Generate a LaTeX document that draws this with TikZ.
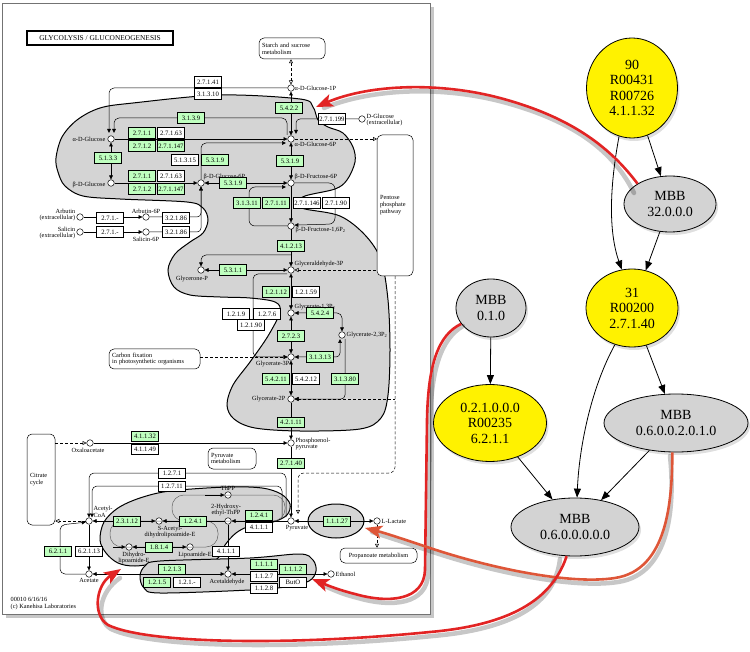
\documentclass[tikz,border=0pt]{standalone}
\usepackage{fontspec}
\setmainfont{Liberation Serif}
\usetikzlibrary{arrows.meta,shapes.geometric,shadows}
\definecolor{kg}{RGB}{191,255,191}
\definecolor{rgn}{RGB}{212,212,212}
\definecolor{redl}{RGB}{226,36,36}
\definecolor{orl}{RGB}{222,86,56}
\definecolor{gnd}{RGB}{211,211,211}
\newcommand\mfs{\fontsize{6.7}{7}\selectfont}
\newcommand\lfs{\fontsize{6.3}{6.9}\selectfont}
\newcommand\gfs{\fontsize{14}{15.5}\selectfont}
\begin{document}
\begin{tikzpicture}[x=1pt,y=-1pt,
  ez/.style={draw, fill=white, font=\mfs, inner sep=0pt, minimum height=10.5pt, minimum width=27pt, line width=0.5pt},
  eg/.style={ez, fill=kg},
  cpd/.style={circle, draw, fill=white, inner sep=0pt, minimum size=6.5pt, line width=0.5pt},
  lab/.style={font=\lfs, inner sep=0.5pt, align=left},
  kl/.style={line width=0.5pt},
  ka/.style={kl, -{Triangle[length=4pt,width=3.6pt]}},
  kb/.style={kl, {Triangle[length=4pt,width=3.6pt]}-{Triangle[length=4pt,width=3.6pt]}},
  kd/.style={kl, dash pattern=on 3pt off 2pt},
  oa/.style={-{Triangle[open,length=4pt,width=4pt]}},
  ao/.style={{Triangle[open,length=4pt,width=4pt]}-},
  oo/.style={{Triangle[open,length=4pt,width=4pt]}-{Triangle[open,length=4pt,width=4pt]}},
  pbox/.style={draw, rounded corners=5pt, fill=white, font=\lfs, align=left, line width=0.5pt, inner sep=2.5pt},
  reg/.style={fill=rgn, draw=black, line width=1pt},
  cyc/.style={draw=black!60, line width=0.5pt},
  gn/.style={ellipse, draw=black, line width=0.8pt, font=\gfs, align=center, inner sep=0pt,
     drop shadow={shadow xshift=2pt, shadow yshift=-3pt, opacity=0.25}},
  gy/.style={gn, fill=yellow},
  gg/.style={gn, fill=gnd},
  gedge/.style={line width=0.8pt, -{Triangle[length=9pt,width=7pt]}},
  rline/.style={line width=2.6pt},
  rshad/.style={line width=4.5pt, draw=black, opacity=0.22, line cap=round}
]
\useasboundingbox (0,0) rectangle (750,652);

% ---------- map frame ----------
\fill[black!22] (6,7) rectangle (434,618);
\draw[fill=white, draw=black!55, line width=0.8pt] (2,3) rectangle (430,614);
\node[draw, line width=1.1pt, font=\fontsize{7.4}{8}\selectfont, minimum width=146pt, minimum height=14pt, inner sep=0pt] (title) at (100,38) {GLYCOLYSIS / GLUCONEOGENESIS};

% ---------- shaded modules ----------
\draw[reg] plot[smooth cycle, tension=0.55] coordinates {
 (56,158) (62,137) (77,120) (100,108) (133,103) (220,95) (300,99) (313,107) (318,120) (328,127) (343,133)
 (353,147) (355,162) (347,180) (335,189) (305,196) (294,204) (305,209) (340,216) (365,235) (381,260)
 (388,300) (390,350) (388,395) (381,418) (360,429) (300,431) (255,428) (234,419) (227,405) (233,385)
 (250,362) (268,336) (280,312) (275,302) (250,298) (220,297) (190,295) (174,287) (168,270) (175,254)
 (190,242) (203,233) (208,220) (203,208) (187,202) (120,199) (83,196) (65,186) (58,172)};
\draw[reg] plot[smooth cycle, tension=0.55] coordinates {
 (100,540) (104,522) (118,508) (140,498) (170,491) (227,487) (262,488) (281,494) (290,504) (287,515)
 (273,522) (250,526) (236,533) (225,545) (219,557) (205,564) (165,563) (135,566) (118,563) (106,553)};
\draw[reg] plot[smooth cycle, tension=0.55] coordinates {
 (140,576) (145,566) (160,561) (250,558) (300,554) (313,560) (316,571) (309,581) (285,587) (250,590) (160,593) (144,588)};
\draw[reg] (336,521) ellipse [x radius=28pt, y radius=17pt];

% ---------- pathway boxes ----------
\node[pbox, minimum width=66pt, minimum height=21pt, text width=60pt] (stb) at (292,48.5) {Starch and sucrose\\metabolism};
\node[pbox, minimum width=36pt, minimum height=141pt, text width=30pt] (pp) at (395,205.5) {Pentose\\phosphate\\pathway};
\node[pbox, minimum width=91pt, minimum height=20pt, text width=85pt] (cf) at (154.5,359) {Carbon fixation\\in photosynthetic organisms};
\node[pbox, minimum width=28pt, minimum height=91pt, text width=22pt] (cc) at (41,479.5) {Citrate\\cycle};
\node[pbox, minimum width=48pt, minimum height=21pt, text width=42pt] (pym) at (232,458.5) {Pyruvate\\metabolism};
\node[pbox, minimum width=77pt, minimum height=15pt, align=center] (pm) at (378.5,555.5) {Propanoate metabolism};

% ---------- compounds ----------
\node[cpd] (aG1P) at (291,88) {};
\node[cpd] (aG6P) at (291,139) {};
\node[cpd] (aGlc) at (111,139) {};
\node[cpd] (dGex) at (362,119) {};
\node[cpd] (bGlc) at (111,183) {};
\node[cpd] (bG6P) at (201,183) {};
\node[cpd] (bF6P) at (291,183) {};
\node[cpd] (F16P) at (291,226) {};
\node[cpd] (GAP) at (291,270) {};
\node[cpd] (DHAP) at (201,270) {};
\node[cpd] (ArbX) at (80,217) {};
\node[cpd] (Arb6) at (146,217) {};
\node[cpd] (SalX) at (80,232) {};
\node[cpd] (Sal6) at (146,232) {};
\node[cpd] (G13) at (291,313) {};
\node[cpd] (G23) at (342,335) {};
\node[cpd] (G3) at (291,357) {};
\node[cpd] (G2) at (291,399) {};
\node[cpd] (PEP) at (291,443) {};
\node[cpd] (Pyr) at (291,521) {};
\node[cpd] (Lac) at (377,521) {};
\node[cpd] (OAA) at (90,443) {};
\node[cpd] (AcCoA) at (89,521) {};
\node[cpd] (SAc) at (159,521) {};
\node[cpd] (HE) at (228,521) {};
\node[cpd] (ThPP) at (228,495) {};
\node[cpd] (DHL) at (129,547) {};
\node[cpd] (LipE) at (190,547) {};
\node[cpd] (Ace) at (89,574) {};
\node[cpd] (Ald) at (228,574) {};
\node[cpd] (EtOH) at (331,574) {};

% ---------- reaction lines ----------
\draw[kd, oo] (stb.south -| aG1P) -- (aG1P);
\draw[kb] (aG1P) -- (aG6P);
\draw[ka, rounded corners=5pt] (aG1P.west) -- (109,88) -- (109,133);
\draw[ka, rounded corners=5pt] (287,135) -- (287,118) -- (114,118) -- (114,133);
\draw[ka, rounded corners=4pt] (dGex) -- (296,119) -- (296,134);
\draw[ka] (aGlc) -- (aG6P);
\draw[ka, rounded corners=5pt] (bG6P) -- (201,143) -- (286,143);
\draw[kb] (aGlc) -- (bGlc);
\draw[ka] (bGlc) -- (bG6P);
\draw[kb] (bG6P) -- (bF6P);
\draw[kb] (aG6P) -- (bF6P);
\draw[ka] (bF6P) -- (F16P);
\draw[ka, rounded corners=6pt] (F16P.west) -- (249,226) -- (249,187) -- (286,187);
\draw[ka, rounded corners=6pt] (bF6P.east) -- (335,183) -- (335,224) -- (F16P.15);
\draw[ka] (ArbX) -- (Arb6);
\draw[ka] (SalX) -- (Sal6);
\draw[ka, rounded corners=4pt] (Arb6) -| (bG6P);
\draw[ka, rounded corners=4pt] (Sal6) -| (bG6P);
\draw[ka] (F16P) -- (GAP);
\draw[ka, rounded corners=5pt] (291,255) -- (201,255) -- (DHAP);
\draw[kb] (DHAP) -- (GAP);
\draw[kd, ao] (GAP) -- (377,270);
\draw[kd, oa] (aG6P) -- (377,139);
\draw[kb] (GAP) -- (G13);
\draw[ka, rounded corners=5pt] (287,274) -- (253,274) -- (253,357) -- (G3);
\draw[kb] (G13) -- (G3);
\draw[kb, rounded corners=5pt] (G13) -- (342,313) -- (G23);
\draw[kb, rounded corners=4pt] (340,339) -- (340,357) -- (G3);
\draw[ka, rounded corners=4pt] (345,339) -- (345,399) -- (G2);
\draw[kb] (G3) -- (G2);
\draw[kd, oa] (cf.east |- G3) -- (G3);
\draw[kd, ao] (G2) -- (395,399);
\draw[kd, oa, rounded corners=6pt] (pp.south) -- (395,473) -- (298,473) -- (298,514);
\draw[ka] (G2) -- (PEP);
\draw[ka] (OAA) -- (PEP);
\draw[kd, oa] (cc.east |- OAA) -- (OAA);
\draw[ka] (PEP) -- (Pyr);
\draw[kb] (Pyr) -- (Lac);
\draw[kd, oa] (Lac) -- (pm.north -| Lac);
\draw[ka, rounded corners=5pt] (286,517) -- (286,473) -- (89,473) -- (AcCoA);
\draw[ka, rounded corners=5pt] (282,517) -- (282,486) -- (92,486) -- (92,517.5);
\draw[cyc, rounded corners=12pt] (172,495) rectangle (285,521);
\draw[cyc, rounded corners=12pt] (110,521) rectangle (218,547);
\draw[ka] (Pyr) -- (HE);
\draw[ka] (HE) -- (SAc);
\draw[kb] (SAc) -- (AcCoA);
\draw[ka] (205,495) -- (ThPP);
\draw[ka] (113,547) -- (DHL);
\draw[kb] (DHL) -- (LipE);
\draw[ka] (HE) -- (Ald);
\draw[ka] (AcCoA) -- (Ace);
\draw[ka, rounded corners=5pt] (Ace.west) -- (60,574) -- (60,525) -- (AcCoA.200);
\draw[kd, oa] (AcCoA) -- (cc.east |- AcCoA);
\draw[kb] (Ald) -- (Ace);
\draw[kb] (Ald) -- (EtOH);

% ---------- enzymes ----------
\node[ez] (e1) at (208,82) {2.7.1.41};
\node[ez] (e2) at (208,94) {3.1.3.10};
\node[eg] (e3) at (191,118) {3.1.3.9};
\node[eg] (e4) at (289,108) {5.4.2.2};
\node[ez] (e5) at (332,119) {2.7.1.199};
\node[eg] (e6) at (142,133) {2.7.1.1};
\node[ez] (e7) at (171,133) {2.7.1.63};
\node[eg] (e8) at (142,146) {2.7.1.2};
\node[eg] (e9) at (171,146) {2.7.1.147};
\node[eg] (e10) at (108,158) {5.1.3.3};
\node[ez] (e11) at (185,160) {5.1.3.15};
\node[eg] (e12) at (215,160) {5.3.1.9};
\node[eg] (e13) at (290,161) {5.3.1.9};
\node[eg] (e14) at (142,176) {2.7.1.1};
\node[ez] (e15) at (171,176) {2.7.1.63};
\node[eg] (e16) at (142,189) {2.7.1.2};
\node[eg] (e17) at (171,189) {2.7.1.147};
\node[eg] (e18) at (233,183) {5.3.1.9};
\node[eg] (e19) at (247,203) {3.1.3.11};
\node[eg] (e20) at (276,203) {2.7.1.11};
\node[ez] (e21) at (307,203) {2.7.1.146};
\node[ez] (e22) at (336,203) {2.7.1.90};
\node[ez] (e23) at (110,218) {2.7.1.-};
\node[ez] (e24) at (176,218) {3.2.1.86};
\node[ez] (e25) at (110,232) {2.7.1.-};
\node[ez] (e26) at (176,232) {3.2.1.86};
\node[eg] (e27) at (291,246) {4.1.2.13};
\node[eg] (e28) at (233,270) {5.3.1.1};
\node[eg] (e29) at (276,292) {1.2.1.12};
\node[ez] (e30) at (306,292) {1.2.1.59};
\node[ez] (e31) at (236,314) {1.2.1.9};
\node[ez] (e32) at (267,314) {1.2.7.6};
\node[ez] (e33) at (251,325) {1.2.1.90};
\node[eg] (e34) at (320,313) {5.4.2.4};
\node[eg] (e35) at (291,336) {2.7.2.3};
\node[eg] (e36) at (320,357) {3.1.3.13};
\node[eg] (e37) at (276,379) {5.4.2.11};
\node[ez] (e38) at (306,379) {5.4.2.12};
\node[eg] (e39) at (345,379) {3.1.3.80};
\node[eg] (e40) at (291,422) {4.2.1.11};
\node[eg] (e41) at (145,436) {4.1.1.32};
\node[ez] (e42) at (145,449) {4.1.1.49};
\node[eg] (e43) at (291,463) {2.7.1.40};
\node[ez] (e44) at (172,473) {1.2.7.1};
\node[ez] (e45) at (172,486) {1.2.7.11};
\node[eg] (e46) at (127,521) {2.3.1.12};
\node[eg] (e47) at (193,521) {1.2.4.1};
\node[eg] (e48) at (259,515) {1.2.4.1};
\node[ez] (e49) at (259,527) {4.1.1.1};
\node[eg] (e50) at (159,547) {1.8.1.4};
\node[ez] (e51) at (226,551) {4.1.1.1};
\node[eg] (e52) at (337,521) {1.1.1.27};
\node[eg] (e53) at (58,551) {6.2.1.1};
\node[ez] (e54) at (89,551) {6.2.1.13};
\node[eg] (e55) at (172,569) {1.2.1.3};
\node[eg] (e56) at (157,582) {1.2.1.5};
\node[ez] (e57) at (187,582) {1.2.1.-};
\node[eg] (e58) at (264,564) {1.1.1.1};
\node[ez] (e59) at (264,576) {1.1.2.7};
\node[ez] (e60) at (264,588) {1.1.2.8};
\node[eg] (e61) at (293,569) {1.1.1.2};
\node[ez] (e62) at (293,582) {ButO};

% ---------- compound labels ----------
\node[lab, anchor=west] (lA1) at (294,88) {α-D-Glucose-1P};
\node[lab, anchor=north west] (lA6) at (294,141) {α-D-Glucose-6P};
\node[lab, anchor=east] (lAG) at (106,139) {α-D-Glucose};
\node[lab, anchor=west] (lDG) at (366,120) {D-Glucose\\(extracellular)};
\node[lab, anchor=east] (lBG) at (106,185) {β-D-Glucose};
\node[lab, anchor=south west] (lB6) at (203,181) {β-D-Glucose-6P};
\node[lab, anchor=south west] (lF6) at (294,181) {β-D-Fructose-6P};
\node[lab, anchor=west] (lF16) at (295,230) {β-D-Fructose-1,6P\textsubscript{2}};
\node[lab, anchor=south west] (lGAP) at (294,268) {Glyceraldehyde-3P};
\node[lab, anchor=north] (lDH) at (192,275) {Glycerone-P};
\node[lab, anchor=east, align=right] (lAX) at (76,215) {Arbutin\\(extracellular)};
\node[lab, anchor=south] (lA6P) at (146,214) {Arbutin-6P};
\node[lab, anchor=east, align=right] (lSX) at (76,233) {Salicin\\(extracellular)};
\node[lab, anchor=north] (lS6P) at (146,236) {Salicin-6P};
\node[lab, anchor=south west] (lG13) at (294,311) {Glycerate-1,3P\textsubscript{2}};
\node[lab, anchor=west] (lG23) at (346,335) {Glycerate-2,3P\textsubscript{2}};
\node[lab, anchor=north east] (lG3) at (290,360) {Glycerate-3P};
\node[lab, anchor=east] (lG2) at (286,399) {Glycerate-2P};
\node[lab, anchor=west] (lPEP) at (295,444) {Phosphoenol-\\pyruvate};
\node[lab, anchor=north] (lPyr) at (297,525) {Pyruvate};
\node[lab, anchor=west] (lLac) at (381,521) {L-Lactate};
\node[lab, anchor=north] (lOAA) at (88,447) {Oxaloacetate};
\node[lab, anchor=south west] (lAc) at (93,518) {Acetyl-\\CoA};
\node[lab, anchor=north, align=center] (lSAc) at (170,525) {S-Acetyl-\\dihydrolipoamide-E};
\node[lab, anchor=south, align=center] (lHE) at (226,517) {2-Hydroxy-\\ethyl-ThPP};
\node[lab, anchor=south] (lTh) at (228,491) {ThPP};
\node[lab, anchor=north, align=center] (lDHL) at (134,551) {Dihydro-\\lipoamide-E};
\node[lab, anchor=north] (lLip) at (195,551) {Lipoamide-E};
\node[lab, anchor=north] (lAce) at (89,578) {Acetate};
\node[lab, anchor=north] (lAld) at (227,578) {Acetaldehyde};
\node[lab, anchor=west] (lEt) at (335,574) {Ethanol};
\node[lab, anchor=north west] (foot) at (10,597) {00010 6/16/16\\(c) Kanehisa Laboratories};

% ---------- graph nodes ----------
\node[gy, minimum width=91pt, minimum height=100pt] (n90) at (632,88) {90\\R00431\\R00726\\4.1.1.32};
\node[gg, minimum width=92pt, minimum height=56pt] (m32) at (670,204) {MBB\\32.0.0.0};
\node[gy, minimum width=92pt, minimum height=78pt] (n31) at (632,308) {31\\R00200\\2.7.1.40};
\node[gg, minimum width=70pt, minimum height=58pt] (m010) at (491,308) {MBB\\0.1.0};
\node[gy, minimum width=113pt, minimum height=77pt] (n0210) at (490,423) {0.2.1.0.0.0\\R00235\\6.2.1.1};
\node[gg, minimum width=144pt, minimum height=58pt] (m0620) at (676,423) {MBB\\0.6.0.0.2.0.1.0};
\node[gg, minimum width=128pt, minimum height=58pt] (m0600) at (575,527) {MBB\\0.6.0.0.0.0.0};

\draw[gedge] (n90) -- (m32);
\draw[gedge] (n90.255) .. controls (610,185) and (608,230) .. (n31.105);
\draw[gedge] (m32) -- (n31);
\draw[gedge] (m010) -- (n0210);
\draw[gedge] (n31) -- (m0620);
\draw[gedge] (n31.245) .. controls (590,390) and (579,450) .. (m0600.86);
\draw[gedge] (n0210) -- (m0600);
\draw[gedge] (m0620) -- (m0600);

% ---------- red links ----------
\draw[rshad] (634,193) .. controls (615,154) and (578,122) .. (503,102) .. controls (443,86) and (373,88) .. (324,108);
\draw[rshad] (463,326) .. controls (441,339) and (431,369) .. (430,424) -- (428,574) .. controls (427,604) and (393,608) .. (358,598) .. controls (338,593) and (330,588) .. (320,584);
\draw[rshad] (670,456) .. controls (675,504) and (671,574) .. (618,582) .. controls (573,589) and (493,572) .. (433,552) .. controls (403,542) and (388,537) .. (372,532);
\draw[rshad] (560,559) .. controls (555,604) and (513,629) .. (433,636) .. controls (303,649) and (153,649) .. (111,629) .. controls (95,619) and (99,592) .. (120,578);

\draw[rline, draw=redl, -{Stealth[length=17pt,width=13pt,inset=4pt,fill=redl]}] (m32.148) .. controls (612,150) and (575,118) .. (500,98) .. controls (440,82) and (370,84) .. (316,107);
\draw[rline, draw=redl, -{Stealth[length=17pt,width=13pt,inset=4pt,fill=redl]}] (m010.208) .. controls (438,335) and (428,365) .. (427,420) -- (425,570) .. controls (424,600) and (390,604) .. (355,594) .. controls (335,589) and (322,583) .. (312,579);
\draw[rline, draw=orl, -{Stealth[length=17pt,width=13pt,inset=4pt,fill=orl]}] (m0620.263) .. controls (672,500) and (668,570) .. (615,578) .. controls (570,585) and (490,568) .. (430,548) .. controls (400,538) and (385,533) .. (365,528);
\draw[rline, draw=redl, -{Stealth[length=17pt,width=13pt,inset=4pt,fill=redl]}] (m0600.254) .. controls (552,600) and (510,625) .. (430,632) .. controls (300,645) and (150,645) .. (108,625) .. controls (92,615) and (96,585) .. (121,569);
\end{tikzpicture}
\end{document}
